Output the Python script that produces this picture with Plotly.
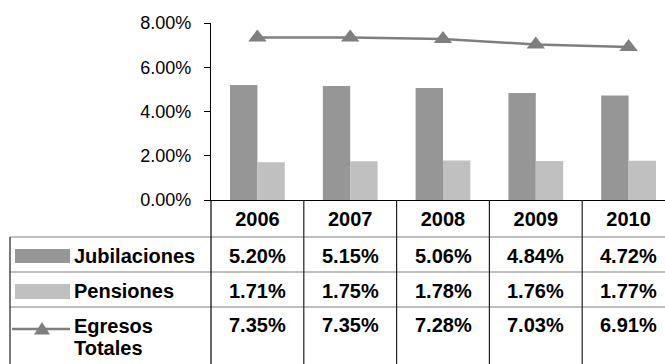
import plotly.graph_objects as go

# Data (percent of GDP)
years = ["2006", "2007", "2008", "2009", "2010"]
jubilaciones = [5.20, 5.15, 5.06, 4.84, 4.72]
pensiones = [1.71, 1.75, 1.78, 1.76, 1.77]
egresos_totales = [7.35, 7.35, 7.28, 7.03, 6.91]
y_ticks = [0, 2, 4, 6, 8]

series_names = ["Jubilaciones", "Pensiones", "Egresos Totales"]
col_jub = "#969696"
col_pen = "#c0c0c0"
col_line = "#7f7f7f"

W, H = 665, 364
M_L, M_R, M_T, M_B = 211, 0, 23, 164
PW, PH = W - M_L - M_R, H - M_T - M_B
CAT_W = 92.8  # pixel width of one category column

FONT = "Liberation Sans, Arial, sans-serif"


def px(x):
    """Pixel x -> paper x."""
    return (x - M_L) / PW


def py(y):
    """Pixel y -> paper y."""
    return (H - M_B - y) / PH


fig = go.Figure()
fig.add_trace(go.Bar(x=years, y=jubilaciones, name=series_names[0],
                     marker=dict(color=col_jub, line=dict(width=0))))
fig.add_trace(go.Bar(x=years, y=pensiones, name=series_names[1],
                     marker=dict(color=col_pen, line=dict(width=0))))
fig.add_trace(go.Scatter(x=years, y=egresos_totales, name=series_names[2],
                         mode="lines+markers",
                         line=dict(color=col_line, width=2.5),
                         marker=dict(symbol="triangle-up", size=16, color=col_line)))

shapes = []
annotations = []

# data-table grid
line_h = dict(color="#7f7f7f", width=1.2)
line_v = dict(color="#202020", width=1.2)
row_lines = [237, 272, 307]
for y in row_lines:
    shapes.append(dict(type="line", xref="paper", yref="paper",
                       x0=px(10), x1=px(W + 20), y0=py(y), y1=py(y), line=line_h))
# left border of the table and continuation of the value axis
shapes.append(dict(type="line", xref="paper", yref="paper",
                   x0=px(10), x1=px(10), y0=py(237), y1=py(H + 5), line=line_v))
shapes.append(dict(type="line", xref="paper", yref="paper",
                   x0=0, x1=0, y0=0, y1=py(H + 5), line=dict(color="#000", width=1.2)))
# column dividers between categories
for i in range(len(years)):
    shapes.append(dict(type="line", xref="x", yref="paper",
                       x0=i + 0.5, x1=i + 0.5, y0=0, y1=py(H + 5), line=line_v))

# legend keys inside the table
shapes.append(dict(type="rect", xref="paper", yref="paper",
                   x0=px(15), x1=px(70), y0=py(249), y1=py(263),
                   fillcolor=col_jub, line=dict(width=0)))
shapes.append(dict(type="rect", xref="paper", yref="paper",
                   x0=px(15), x1=px(70), y0=py(284), y1=py(299),
                   fillcolor=col_pen, line=dict(width=0)))
shapes.append(dict(type="line", xref="paper", yref="paper",
                   x0=px(12), x1=px(70), y0=py(329), y1=py(329),
                   line=dict(color=col_line, width=2.5)))
tri = "M {} {} L {} {} L {} {} Z".format(px(34), py(334.5), px(50), py(334.5), px(42), py(322))
shapes.append(dict(type="path", xref="paper", yref="paper", path=tri,
                   fillcolor=col_line, line=dict(width=0)))

# row labels
bold = dict(family=FONT, size=20, color="#000")
label_lines = [("Jubilaciones", 256), ("Pensiones", 291), ("Egresos", 326), ("Totales", 348)]
for text, y in label_lines:
    annotations.append(dict(xref="paper", yref="paper", x=px(72), y=py(y),
                            text="<b>" + text + "</b>", showarrow=False,
                            xanchor="left", yanchor="middle", font=bold))

# table values (x given as category index)
for values, y in zip([jubilaciones, pensiones, egresos_totales], [256, 291, 325]):
    for i, v in enumerate(values):
        annotations.append(dict(xref="x", yref="paper", x=i, y=py(y),
                                text="<b>{:.2f}%</b>".format(v), showarrow=False,
                                xanchor="center", yanchor="middle", font=bold))

fig.update_layout(
    width=W, height=H,
    margin=dict(l=M_L, r=M_R, t=M_T, b=M_B, pad=0),
    paper_bgcolor="white", plot_bgcolor="white",
    barmode="group", bargap=0.41, bargroupgap=0,
    showlegend=False,
    font=dict(family=FONT, color="#000"),
    shapes=shapes, annotations=annotations,
    xaxis=dict(
        type="category", range=[-0.5, -0.5 + PW / CAT_W],
        showline=True, linecolor="#000", linewidth=1.2,
        ticks="", showgrid=False, zeroline=False,
        tickfont=dict(family=FONT, size=20, color="#000"),
        ticktext=["<b>" + y + "</b>" for y in years], tickvals=years,
        ticklabelstandoff=1,
    ),
    yaxis=dict(
        range=[0, 8], tickvals=y_ticks,
        ticktext=["{:.2f}%".format(v) for v in y_ticks],
        showline=True, linecolor="#000", linewidth=1.2,
        ticks="outside", ticklen=6, tickcolor="#000", tickwidth=1.2,
        showgrid=False, zeroline=False,
        tickfont=dict(family=FONT, size=18, color="#000"),
        ticklabelstandoff=9,
    ),
    yaxis2=dict(
        overlaying="y", anchor="x", side="left",
        range=[0, 8], tickvals=y_ticks,
        ticks="inside", ticklen=6, tickcolor="#000", tickwidth=1.2,
        showticklabels=False, showline=False, showgrid=False, zeroline=False,
    ),
)

fig.write_html("out.html")
